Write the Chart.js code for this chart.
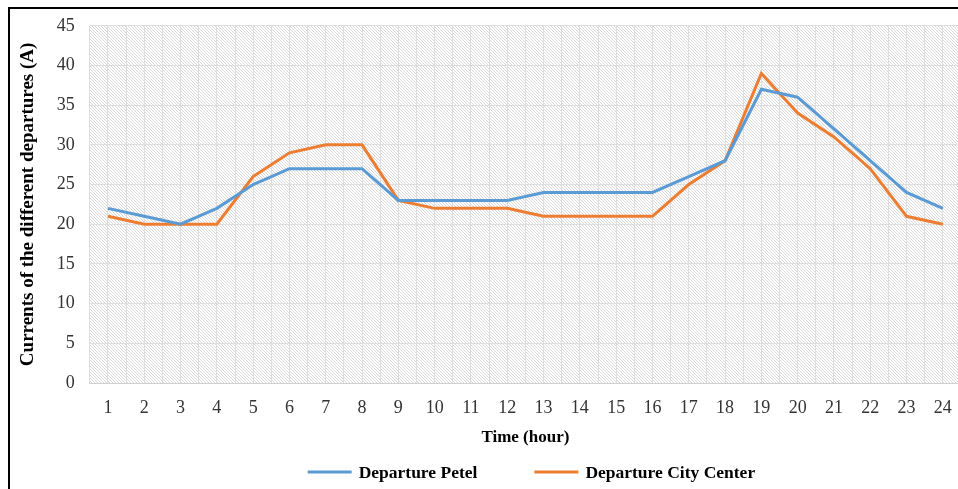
<!DOCTYPE html>
<html>
<head>
<meta charset="utf-8">
<script src="https://cdn.jsdelivr.net/npm/chart.js@4.4.1/dist/chart.umd.min.js"></script>
<style>
  html, body { margin: 0; padding: 0; background: #fff; overflow: hidden; }
  body { width: 958px; height: 489px; position: relative; }
  .frame { position: absolute; left: 8px; top: 7px; width: 1000px; height: 600px;
           border-left: 2px solid #000; border-top: 2px solid #000; }
  .wrap { position: absolute; left: 0; top: 0; width: 975px; height: 489px; }
</style>
</head>
<body>
<div class="frame"></div>
<div class="wrap"><canvas id="myChart"></canvas></div>
<script>
const hours = [1, 2, 3, 4, 5, 6, 7, 8, 9, 10, 11, 12, 13, 14, 15, 16, 17, 18, 19, 20, 21, 22, 23, 24];
const petel = [22, 21, 20, 22, 25, 27, 27, 27, 23, 23, 23, 23, 24, 24, 24, 24, 26, 28, 37, 36, 32, 28, 24, 22];
const cityCenter = [21, 20, 20, 20, 26, 29, 30, 30, 23, 22, 22, 22, 21, 21, 21, 21, 25, 28, 39, 34, 31, 27, 21, 20];
const yTicks = [0, 5, 10, 15, 20, 25, 30, 35, 40, 45];

const blue = "#5b9bd5";
const orange = "#ed7d31";
const serif = "'Liberation Serif', 'Times New Roman', serif";

// hatched plot background
const makeHatch = (ctx) => {
    const c = document.createElement("canvas");
    c.width = 3;
    c.height = 3;
    const g = c.getContext("2d");
    g.fillStyle = "#fff";
    g.fillRect(0, 0, 3, 3);
    g.fillStyle = "#d9d9d9";
    for (let i = 0; i < 3; i++) g.fillRect(i, i, 1, 1);
    return ctx.createPattern(c, "repeat");
};

const hatchPlugin = {
    id: "hatch",
    beforeDraw(chart) {
        const { ctx, chartArea } = chart;
        ctx.save();
        ctx.fillStyle = makeHatch(ctx);
        ctx.fillRect(chartArea.left, chartArea.top, chartArea.right - chartArea.left, chartArea.bottom - chartArea.top);
        ctx.restore();
    }
};

// legend drawn under the axis title, centred on the plot
const legendPlugin = {
    id: "lineLegend",
    afterDraw(chart) {
        const { ctx, chartArea } = chart;
        const lineW = 44, gap = 7, itemGap = 57, y = 472;
        ctx.save();
        ctx.font = "bold 17.5px " + serif;
        ctx.textBaseline = "middle";
        const items = chart.data.datasets.map((ds) => ({ ds, w: lineW + gap + ctx.measureText(ds.label).width }));
        const total = items.reduce((s, it) => s + it.w, 0) + itemGap * (items.length - 1);
        let x = (chartArea.left + chartArea.right) / 2 + 6 - total / 2;
        items.forEach(({ ds, w }) => {
            ctx.strokeStyle = ds.borderColor;
            ctx.lineWidth = 3;
            ctx.beginPath();
            ctx.moveTo(x, y);
            ctx.lineTo(x + lineW, y);
            ctx.stroke();
            ctx.fillStyle = "#000";
            ctx.fillText(ds.label, x + lineW + gap, y + 1);
            x += w + itemGap;
        });
        ctx.restore();
    }
};

const toPoints = (vals) => vals.map((v, i) => ({ x: hours[i], y: v }));

const ctx = document.getElementById("myChart").getContext("2d");
const myChart = new Chart(ctx, {
    type: "line",
    data: {
        datasets: [
            { label: "Departure Petel", data: toPoints(petel), borderColor: blue, backgroundColor: blue, borderWidth: 3, pointRadius: 0, tension: 0 },
            { label: "Departure City Center", data: toPoints(cityCenter), borderColor: orange, backgroundColor: orange, borderWidth: 3, pointRadius: 0, tension: 0 }
        ]
    },
    options: {
        responsive: true,
        maintainAspectRatio: false,
        animation: false,
        layout: { padding: { top: 14, right: 14, bottom: 37, left: 17 } },
        plugins: {
            tooltip: { enabled: false },
            legend: { display: false }
        },
        scales: {
            x: {
                type: "linear",
                min: 0.5,
                max: 24.5,
                grid: { color: "#dedede", drawTicks: false },
                border: { color: "#d0d0d0" },
                ticks: {
                    stepSize: 0.5,
                    autoSkip: false,
                    maxRotation: 0,
                    padding: 14,
                    color: "#333",
                    font: { family: serif, size: 18 },
                    callback: (v) => hours.includes(v) ? String(v) : ""
                },
                title: {
                    display: true,
                    text: "Time (hour)",
                    color: "#000",
                    padding: { top: -5, bottom: 4 },
                    font: { family: serif, size: 17, weight: "bold" }
                }
            },
            y: {
                min: 0,
                max: 45,
                afterBuildTicks: (axis) => { axis.ticks = yTicks.map((v) => ({ value: v })); },
                grid: { color: "#dedede", drawTicks: false },
                border: { display: false },
                ticks: {
                    padding: 15,
                    color: "#333",
                    font: { family: serif, size: 18 }
                },
                title: {
                    display: true,
                    text: "Currents of the different departures (A)",
                    color: "#000",
                    padding: { top: 0, bottom: 2 },
                    font: { family: serif, size: 19, weight: "bold" }
                }
            }
        }
    },
    plugins: [hatchPlugin, legendPlugin]
});
</script>
</body>
</html>
